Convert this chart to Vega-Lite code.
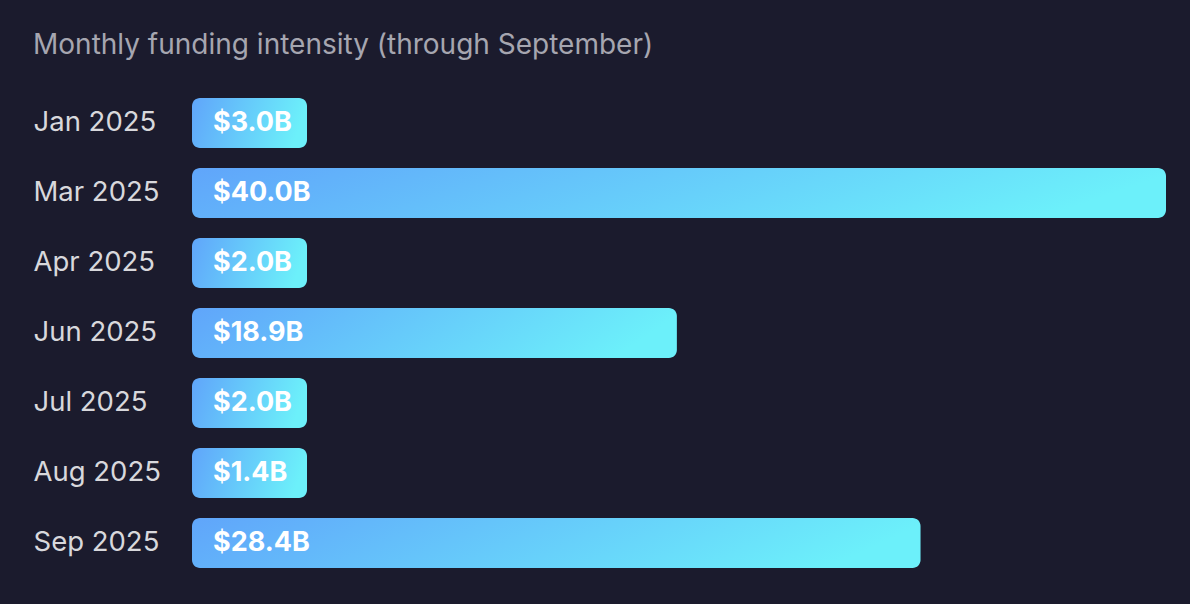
{
  "$schema": "https://vega.github.io/schema/vega-lite/v6.json",
  "width": 974,
  "height": 490,
  "autosize": {"type": "none"},
  "padding": {"left": 192, "top": 88, "right": 24, "bottom": 26},
  "background": "#1b1b2d",
  "title": {
    "text": "Monthly funding intensity (through September)",
    "anchor": "start",
    "frame": "bounds",
    "font": "Inter",
    "fontSize": 28,
    "fontWeight": "normal",
    "color": "#a6a6b0",
    "offset": 28
  },
  "data": {
    "values": [
      {"month": "Jan 2025", "value": 3.0, "label": "$3.0B"},
      {"month": "Mar 2025", "value": 40.0, "label": "$40.0B"},
      {"month": "Apr 2025", "value": 2.0, "label": "$2.0B"},
      {"month": "Jun 2025", "value": 18.9, "label": "$18.9B"},
      {"month": "Jul 2025", "value": 2.0, "label": "$2.0B"},
      {"month": "Aug 2025", "value": 1.4, "label": "$1.4B"},
      {"month": "Sep 2025", "value": 28.4, "label": "$28.4B"}
    ]
  },
  "encoding": {
    "y": {
      "field": "month",
      "type": "nominal",
      "sort": null,
      "scale": {"paddingInner": 0.2857, "paddingOuter": 0.1429},
      "axis": {
        "title": null,
        "domain": false,
        "ticks": false,
        "labelAlign": "left",
        "labelPadding": 159,
        "labelFont": "Inter",
        "labelFontSize": 27.5,
        "labelColor": "#d8d8dc"
      }
    }
  },
  "layer": [
    {
      "mark": {
        "type": "bar",
        "cornerRadius": 8,
        "color": {
          "gradient": "linear",
          "x1": 0, "y1": 0, "x2": 1, "y2": 0.15,
          "stops": [
            {"offset": 0, "color": "#60a5fa"},
            {"offset": 1, "color": "#6cf0fa"}
          ]
        }
      },
      "encoding": {
        "x": {
          "field": "value",
          "type": "quantitative",
          "scale": {"domain": [0, 0.001, 4.48, 37.97], "range": [0, 115, 115, 974], "clamp": true, "nice": false, "zero": false},
          "axis": null
        },
        "x2": {"datum": 0}
      }
    },
    {
      "mark": {
        "type": "text",
        "align": "left",
        "baseline": "middle",
        "dx": 21,
        "font": "Inter",
        "fontSize": 27,
        "fontWeight": "bold",
        "color": "#ffffff"
      },
      "encoding": {
        "x": {"datum": 0, "type": "quantitative"},
        "text": {"field": "label"}
      }
    }
  ],
  "config": {"view": {"stroke": null}}
}
